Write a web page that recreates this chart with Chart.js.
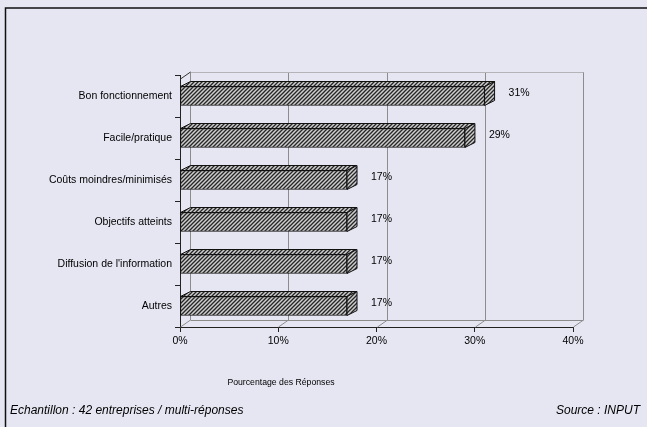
<!DOCTYPE html>
<html>
<head>
<meta charset="utf-8">
<script src="https://cdn.jsdelivr.net/npm/chart.js@4.4.0/dist/chart.umd.min.js"></script>
<style>
  html, body { margin: 0; padding: 0; background: #e5e6f2; }
  #wrap { width: 647px; height: 427px; position: relative; }
</style>
</head>
<body>
<div id="wrap"><canvas id="chart" width="647" height="427"></canvas></div>
<script>
'use strict'

var categories = ['Bon fonctionnement', 'Facile/pratique', 'Coûts moindres/minimisés', 'Objectifs atteints', 'Diffusion de l\'information', 'Autres'];
var responses = [31, 29, 17, 17, 17, 17];
var tickValues = [0, 10, 20, 30, 40];
var axisTitle = 'Pourcentage des Réponses';
var footLeft = 'Echantillon : 42 entreprises / multi-réponses';
var footRight = 'Source : INPUT';

var depthX = 10;
var depthY = 7;
var barDepthY = 5;
var font = 'Arial, "Liberation Sans", sans-serif';

// diagonal hatch used on every face of the bars
function makeHatch(ctx) {
  var tile = document.createElement('canvas');
  tile.width = 4;
  tile.height = 4;
  var t = tile.getContext('2d');
  t.fillStyle = '#cdcdcd';
  t.fillRect(0, 0, 4, 4);
  t.strokeStyle = '#262626';
  t.lineWidth = 1.3;
  t.beginPath();
  t.moveTo(-1, 5); t.lineTo(5, -1);
  t.moveTo(-1, 1); t.lineTo(1, -1);
  t.moveTo(3, 5); t.lineTo(5, 3);
  t.stroke();
  return ctx.createPattern(tile, 'repeat');
}

var canvas = document.getElementById('chart');
var ctx = canvas.getContext('2d');
var hatch = makeHatch(ctx);

// grey back wall and floor sitting behind the bars
var backWall = {
  id: 'backWall',
  beforeDatasetsDraw: function(chart) {
    var c = chart.ctx;
    var xs = chart.scales.x;
    var a = chart.chartArea;
    var wallTop = a.top - 3;
    var floorY = a.bottom - depthY;
    c.save();
    c.lineWidth = 1;
    c.strokeStyle = '#8c8c8c';
    tickValues.forEach(function(v) {
      var px = Math.round(xs.getPixelForValue(v)) + 0.5;
      c.beginPath();
      c.moveTo(px, a.bottom);
      c.lineTo(px + depthX, floorY);
      c.lineTo(px + depthX, wallTop);
      c.stroke();
    });
    var x0 = Math.round(xs.getPixelForValue(tickValues[0])) + 0.5;
    var x1 = Math.round(xs.getPixelForValue(tickValues[tickValues.length - 1])) + 0.5;
    c.beginPath();
    c.moveTo(x0 + depthX, floorY + 0.5);
    c.lineTo(x1 + depthX, floorY + 0.5);
    c.stroke();
    c.strokeStyle = '#b4b4b8';
    c.beginPath();
    c.moveTo(x0 + depthX, wallTop + 0.5);
    c.lineTo(x1 + depthX, wallTop + 0.5);
    c.stroke();
    c.strokeStyle = '#333';
    c.beginPath();
    c.moveTo(x0, a.top + 4);
    c.lineTo(x0 + depthX, wallTop);
    c.stroke();
    c.restore();
  }
};

// top and side faces of each bar, plus the value next to it
var barFaces = {
  id: 'barFaces',
  afterDatasetsDraw: function(chart) {
    var c = chart.ctx;
    c.save();
    c.lineWidth = 1;
    c.strokeStyle = '#111';
    c.fillStyle = hatch;
    chart.getDatasetMeta(0).data.forEach(function(bar, i) {
      var p = bar.getProps(['x', 'y', 'base', 'height'], true);
      var top = p.y - p.height / 2;
      var bottom = p.y + p.height / 2;
      c.beginPath();
      c.moveTo(p.base, top);
      c.lineTo(p.base + depthX, top - barDepthY);
      c.lineTo(p.x + depthX, top - barDepthY);
      c.lineTo(p.x, top);
      c.closePath();
      c.fill();
      c.stroke();
      c.beginPath();
      c.moveTo(p.x, top);
      c.lineTo(p.x + depthX, top - barDepthY);
      c.lineTo(p.x + depthX, bottom - barDepthY);
      c.lineTo(p.x, bottom);
      c.closePath();
      c.fill();
      c.stroke();

      c.fillStyle = '#000';
      c.font = '10.5px ' + font;
      c.textAlign = 'left';
      c.textBaseline = 'middle';
      c.fillText(responses[i] + '%', p.x + depthX + 14, p.y - 3);
      c.fillStyle = hatch;
    });
    c.restore();
  }
};

// frame round the figure, axis caption and the two footer notes
var frame = {
  id: 'frame',
  afterDraw: function(chart) {
    var c = chart.ctx;
    c.save();
    c.strokeStyle = '#111';
    c.lineWidth = 1.5;
    c.beginPath();
    c.moveTo(5.5, chart.height);
    c.lineTo(5.5, 8);
    c.lineTo(chart.width, 8);
    c.stroke();
    c.fillStyle = '#000';
    c.textBaseline = 'middle';
    c.textAlign = 'center';
    c.font = '8.7px ' + font;
    c.fillText(axisTitle, 281, 383);
    c.font = 'italic 12px ' + font;
    c.textAlign = 'left';
    c.fillText(footLeft, 10, 411);
    c.textAlign = 'right';
    c.fillText(footRight, 640, 411);
    c.restore();
  }
};

var chart = new Chart(ctx, {
  type: 'bar',
  data: {
    labels: categories,
    datasets: [{
      data: responses,
      backgroundColor: hatch,
      borderColor: '#111',
      borderWidth: 1,
      borderSkipped: false,
      barThickness: 19
    }]
  },
  options: {
    indexAxis: 'y',
    responsive: false,
    animation: false,
    layout: {
      padding: { left: 5, right: 74, top: 75, bottom: 0 }
    },
    plugins: {
      legend: { display: false },
      tooltip: { enabled: false }
    },
    scales: {
      x: {
        min: 0,
        max: 40,
        afterBuildTicks: function(scale) {
          scale.ticks = tickValues.map(function(v) { return { value: v }; });
        },
        afterFit: function(scale) { scale.height = 100; },
        grid: { drawOnChartArea: false, tickLength: 5, color: '#222' },
        border: { display: true, color: '#222' },
        ticks: {
          color: '#000',
          font: { family: font, size: 10.5 },
          padding: 3,
          maxRotation: 0,
          callback: function(v) { return v + '%'; }
        }
      },
      y: {
        afterFit: function(scale) { scale.width = 175; },
        grid: { drawOnChartArea: false, tickLength: 5, color: '#222' },
        border: { display: true, color: '#222' },
        ticks: {
          color: '#000',
          font: { family: font, size: 10.5 },
          padding: 3
        }
      }
    }
  },
  plugins: [backWall, barFaces, frame]
});
</script>
</body>
</html>
